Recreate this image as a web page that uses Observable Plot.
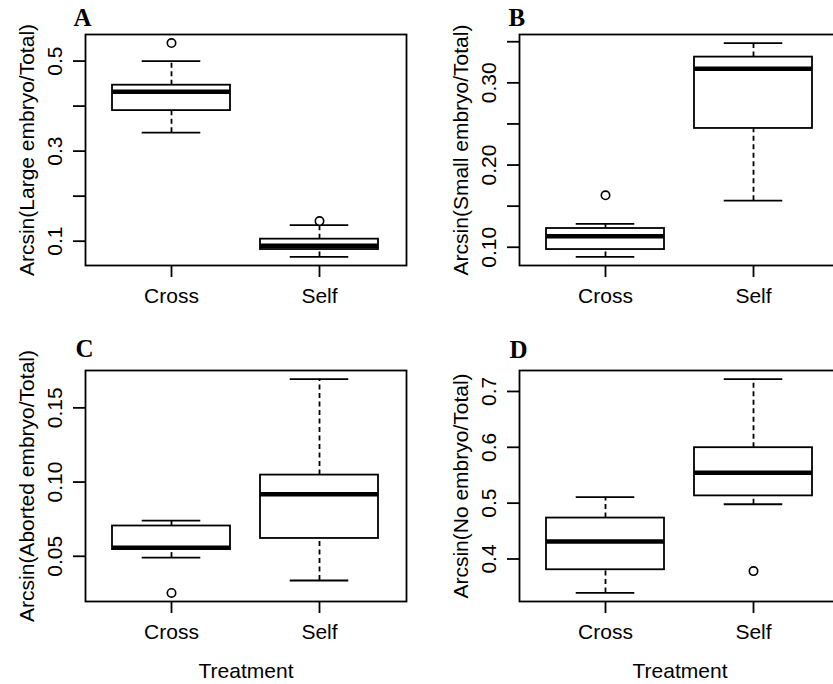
<!DOCTYPE html>
<html>
<head>
<meta charset="utf-8">
<script src="https://cdn.jsdelivr.net/npm/d3@7"></script>
<script src="https://cdn.jsdelivr.net/npm/@observablehq/plot@0.6"></script>
<style>
  html, body { margin: 0; padding: 0; background: white; }
  #chart { position: relative; width: 833px; height: 684px; overflow: hidden; background: white; }
  #chart > div.panel { position: absolute; }
</style>
</head>
<body>
<div id="chart"></div>
<script>
// ---- data ----
const treatments = ["Cross", "Self"];
const panelLetters = ["A", "B", "C", "D"];
const yTitles = [
  "Arcsin(Large embryo/Total)",
  "Arcsin(Small embryo/Total)",
  "Arcsin(Aborted embryo/Total)",
  "Arcsin(No embryo/Total)"
];
// per panel: [Cross, Self]
const lowerWhisker = [[0.341, 0.065], [0.0882, 0.1566], [0.0491, 0.0337], [0.3392, 0.498]];
const quartile1    = [[0.390, 0.0815], [0.0972, 0.2445], [0.0545, 0.062], [0.3807, 0.513]];
const medians      = [[0.4317, 0.0896], [0.1134, 0.3171], [0.0558, 0.0918], [0.4312, 0.5545]];
const quartile3    = [[0.4464, 0.1045], [0.1228, 0.3313], [0.0704, 0.1047], [0.4733, 0.5993]];
const upperWhisker = [[0.500, 0.1357], [0.1285, 0.3484], [0.074, 0.1694], [0.5107, 0.7222]];
const outlierGroup = [["Cross", "Self"], ["Cross"], ["Cross"], ["Self"]];
const outlierValue = [[0.540, 0.1446], [0.1632], [0.0253], [0.3783]];
const yTicks = [
  [0.1, 0.2, 0.3, 0.4, 0.5],
  [0.10, 0.15, 0.20, 0.25, 0.30, 0.35],
  [0.05, 0.10, 0.15],
  [0.4, 0.5, 0.6, 0.7]
];
const yTickLabels = [
  ["0.1", "", "0.3", "", "0.5"],
  ["0.10", "", "0.20", "", "0.30", ""],
  ["0.05", "0.10", "0.15"],
  ["0.4", "0.5", "0.6", "0.7"]
];
const xTitle = "Treatment";

// ---- layout (styles / positions, not data) ----
const panelPos = [[0, 0], [434, 0], [0, 336], [434, 336]];
const letterOffset = [[-12, -9], [-11, -9], [-10, -14], [-10, -13]];
const showXTitle = [false, false, true, true];

const W = 434, H = 342;
const mL = 85, mR = 28, mT = 34, mB = 77;
const lw = 1.8;
const font = "'Liberation Sans', Arial, Helvetica, sans-serif";

const chart = document.getElementById("chart");

panelLetters.forEach((letter, p) => {
  const rows = treatments.map((t, i) => ({
    t,
    lo: lowerWhisker[p][i],
    q1: quartile1[p][i],
    med: medians[p][i],
    q3: quartile3[p][i],
    hi: upperWhisker[p][i]
  }));
  const outs = outlierGroup[p].map((t, i) => ({t, v: outlierValue[p][i]}));
  const all = rows.flatMap(r => [r.lo, r.hi]).concat(outs.map(o => o.v));
  const [mn, mx] = d3.extent(all);
  const ext = (mx - mn) * 0.04;
  const tickRows = yTicks[p].map((v, i) => ({v, label: yTickLabels[p][i]}));

  const step = (W - mL - mR) / 2.16;
  const capInset = step * 0.8 / 4;

  const marks = [
    Plot.ruleX(rows, {x: "t", y1: "q3", y2: "hi", stroke: "black", strokeWidth: lw, strokeDasharray: "5,3.5"}),
    Plot.ruleX(rows, {x: "t", y1: "lo", y2: "q1", stroke: "black", strokeWidth: lw, strokeDasharray: "5,3.5"}),
    Plot.tickY(rows, {x: "t", y: "hi", stroke: "black", strokeWidth: lw, insetLeft: capInset, insetRight: capInset}),
    Plot.tickY(rows, {x: "t", y: "lo", stroke: "black", strokeWidth: lw, insetLeft: capInset, insetRight: capInset}),
    Plot.barY(rows, {x: "t", y1: "q1", y2: "q3", fill: "white", stroke: "black", strokeWidth: lw}),
    Plot.tickY(rows, {x: "t", y: "med", stroke: "black", strokeWidth: 4.5}),
    Plot.dot(outs, {x: "t", y: "v", r: 4.2, stroke: "black", fill: "white", strokeWidth: 1.6}),
    Plot.frame({stroke: "black", strokeWidth: lw}),
    Plot.axisY({ticks: yTicks[p], tickSize: 12, tickFormat: () => "", label: null, stroke: "black", strokeWidth: lw}),
    Plot.text(tickRows, {y: "v", text: "label", frameAnchor: "left", dx: -30, rotate: -90, textAnchor: "middle", lineAnchor: "middle", fill: "black"}),
    Plot.axisX({tickSize: 12, tickPadding: 11, label: null, stroke: "black", strokeWidth: lw, fill: "black"}),
    Plot.text([yTitles[p]], {text: d => d, frameAnchor: "left", dx: -58, rotate: -90, textAnchor: "middle", lineAnchor: "middle", fill: "black"}),
    Plot.text([letter], {text: d => d, frameAnchor: "top-left", dx: letterOffset[p][0], dy: letterOffset[p][1], textAnchor: "start", lineAnchor: "bottom", fontFamily: "'Liberation Serif', 'Times New Roman', serif", fontWeight: "bold", fontSize: 25, fill: "black"})
  ];
  if (showXTitle[p]) {
    marks.push(Plot.text([xTitle], {text: d => d, frameAnchor: "bottom", dy: 70, lineAnchor: "middle", fill: "black"}));
  }

  const svg = Plot.plot({
    width: W,
    height: H,
    marginLeft: mL,
    marginRight: mR,
    marginTop: mT,
    marginBottom: mB,
    style: {fontFamily: font, fontSize: "21px", color: "black", background: "white", overflow: "visible", maxWidth: "none"},
    x: {type: "band", domain: treatments, paddingInner: 0.2, paddingOuter: 0.18},
    y: {domain: [mn - ext, mx + ext]},
    marks
  });
  const wrap = document.createElement("div");
  wrap.className = "panel";
  wrap.style.left = panelPos[p][0] + "px";
  wrap.style.top = panelPos[p][1] + "px";
  wrap.appendChild(svg);
  chart.appendChild(wrap);
});
</script>
</body>
</html>
